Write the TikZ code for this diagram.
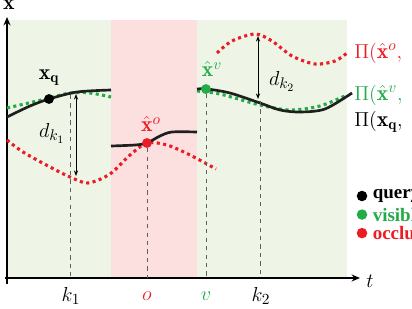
\documentclass[tikz,border=0pt]{standalone}
\usepackage{amsmath}
\usepackage{amssymb}
\usepackage{xcolor}
\usepackage{fontspec}
\newfontfamily\legfont{Liberation Serif}
\usetikzlibrary{arrows.meta,positioning,calc}
\definecolor{VisGreen}{RGB}{34,172,72}
\definecolor{OccRed}{RGB}{236,28,36}
\definecolor{VisBg}{RGB}{238,245,231}
\definecolor{OccBg}{RGB}{252,223,223}
\tikzset{
  qcurve/.style={black!88, line width=1.9pt},
  vcurve/.style={VisGreen, line width=2.2pt, dash pattern=on 2.2pt off 2.4pt},
  ocurve/.style={OccRed, line width=2.2pt, dash pattern=on 2.2pt off 2.4pt},
  guide/.style={gray!75!black, dashed, line width=0.5pt},
  axis/.style={-{Stealth[length=6pt,width=5pt]}, line width=1pt},
  darr/.style={{Stealth[length=4pt,width=3pt]}-{Stealth[length=4pt,width=3pt]}, line width=0.7pt},
  dot/.style={circle, inner sep=0pt, minimum size=7pt},
  lbl/.style={font=\fontsize{15.5}{18}\selectfont},
  leg/.style={font=\fontsize{13.5}{16}\selectfont\legfont\bfseries, anchor=west, inner sep=0pt},
}

\begin{document}
\begin{tikzpicture}[x=0.025cm, y=-0.025cm]
  \useasboundingbox (0,0) rectangle (412,308);
  % shaded time intervals
  \fill[VisBg] (7,20) rectangle (111,278);
  \fill[OccBg] (111,20) rectangle (197,278);
  \fill[VisBg] (197,20) rectangle (347,278);

  % axes
  \coordinate (origin) at (7,278);
  \draw[axis] (5,278) -- (360,278);
  \draw[axis] (7,284) -- (7,17);
  \node[lbl] (xlab) at (9,5) {$\mathbf{x}$};
  \node[lbl] (tlab) at (370,281) {$t$};

  % projections (dotted)
  \draw[ocurve] plot[smooth] coordinates {(7,140) (23,152) (50,167) (70,177) (88,183)
    (110,174) (130,155) (147,143) (167,145) (190,155) (216,169)};
  \draw[ocurve] plot[smooth] coordinates {(217,53) (232,41) (255,34) (272,41) (292,56)
    (315,64) (335,61) (347,53)};
  \draw[vcurve] plot[smooth] coordinates {(7,108) (33,102) (50,98) (70,93) (90,93) (111,97)};
  \draw[vcurve] plot[smooth] coordinates {(197,91) (220,94) (260,105) (290,110) (320,106) (347,95)};

  % query trajectory
  \draw[qcurve] plot[smooth] coordinates {(7,117) (30,106) (49,99) (77,92) (111,90)};
  \draw[qcurve] plot[smooth] coordinates {(111,146) (135,145) (147,143) (160,136) (172,132) (197,132)};
  \draw[qcurve] plot[smooth] coordinates {(197,89) (207,89) (230,93) (260,103) (280,110)
    (300,112) (325,109) (352,93)};

  % points
  \node[dot, fill=black] (xq) at (49,99) {};
  \node[dot, fill=OccRed] (xo) at (147,143) {};
  \node[dot, fill=VisGreen] (xv) at (206,89) {};
  \node[lbl] (xqlab) at (49,78) {$\mathbf{x}_{\mathbf{q}}$};
  \node[lbl, text=OccRed] (xolab) at (151,124) {$\hat{\mathbf{x}}^{o}$};
  \node[lbl, text=VisGreen] (xvlab) at (212,69) {$\hat{\mathbf{x}}^{v}$};

  % guides to the time axis
  \coordinate (k1top) at (70,95);
  \coordinate (k2top) at (260,101);
  \draw[guide] (k1top) -- (k1top |- origin);
  \draw[guide] (xo) -- (xo |- origin);
  \draw[guide] (xv) -- (xv |- origin);
  \draw[guide] (k2top) -- (k2top |- origin);
  \node[lbl] (k1lab) at (71,296) {$k_1$};
  \node[lbl, text=OccRed] (olab) at (147,296) {$o$};
  \node[lbl, text=VisGreen] (vlab) at (206,296) {$v$};
  \node[lbl] (k2lab) at (261,296) {$k_2$};

  % distances
  \coordinate (d1top) at (76,94);
  \coordinate (d1bot) at (76,176);
  \coordinate (d2top) at (258,36);
  \coordinate (d2bot) at (258,99);
  \draw[darr] (d1top) -- (d1bot);
  \draw[darr] (d2top) -- (d2bot);
  \node[lbl] (d1lab) at (52,133) {$d_{k_1}$};
  \node[lbl] (d2lab) at (282,81) {$d_{k_2}$};

  % projection labels
  \node[lbl, anchor=west, inner sep=0pt, text=OccRed] (polab) at (354,53) {$\Pi(\hat{\mathbf{x}}^{o},$};
  \node[lbl, anchor=west, inner sep=0pt, text=VisGreen] (pvlab) at (354,95) {$\Pi(\hat{\mathbf{x}}^{v},$};
  \node[lbl, anchor=west, inner sep=0pt] (pqlab) at (354,122) {$\Pi(\mathbf{x}_{\mathbf{q}},$};

  % legend
  \node[dot, fill=black, minimum size=7.5pt] (legq) at (362,196) {};
  \node[dot, fill=VisGreen, minimum size=7.5pt, below=5.3pt of legq] (legv) {};
  \node[dot, fill=OccRed, minimum size=7.5pt, below=5.3pt of legv] (lego) {};
  \node[leg, right=3.5pt of legq] (legqt) {query};
  \node[leg, right=3.5pt of legv, text=VisGreen] (legvt) {visible};
  \node[leg, right=3.5pt of lego, text=OccRed] (legot) {occluded};
\end{tikzpicture}
\end{document}
